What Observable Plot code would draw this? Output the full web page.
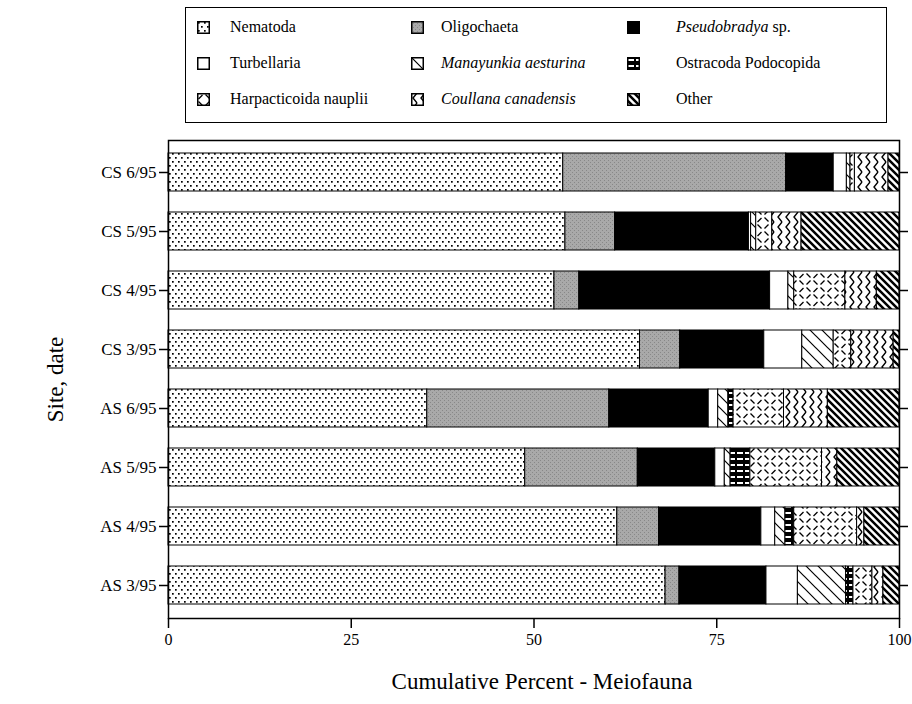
<!DOCTYPE html>
<html>
<head>
<meta charset="utf-8">
<script src="https://cdn.jsdelivr.net/npm/d3@7"></script>
<script src="https://cdn.jsdelivr.net/npm/@observablehq/plot@0.6"></script>
<style>
  body { margin: 0; background: #fff; font-family: "Liberation Serif", "Times New Roman", serif; }
  #legend { position: relative; width: 912px; height: 132px; }
  #legend .box { position: absolute; left: 185px; top: 7px; width: 702px; height: 116px; border: 1.5px solid #000; box-sizing: border-box; }
  #legend .sw { position: absolute; width: 13px; height: 13px; }
  #legend .lab { position: absolute; font-size: 16px; line-height: 16px; white-space: nowrap; color: #000; }
  #defs { position: absolute; width: 0; height: 0; overflow: hidden; }
</style>
</head>
<body>
<svg id="defs" width="0" height="0">
  <defs>
    <pattern id="p-nem" width="6" height="8" patternUnits="userSpaceOnUse">
      <rect width="6" height="8" fill="#fff"/>
      <rect x="1" y="1" width="1.7" height="1.7" fill="#000"/>
      <rect x="4" y="5" width="1.7" height="1.7" fill="#000"/>
    </pattern>
    <pattern id="p-oli" width="4" height="4" patternUnits="userSpaceOnUse">
      <rect width="4" height="4" fill="#a9a9a9"/>
      <rect x="0" y="0" width="1" height="1" fill="#888"/>
      <rect x="2" y="2" width="1" height="1" fill="#888"/>
    </pattern>
    <pattern id="p-man" width="12" height="12" patternUnits="userSpaceOnUse">
      <rect width="12" height="12" fill="#fff"/>
      <path d="M-3,-3 L15,15 M-3,9 L3,15 M9,-3 L15,3" stroke="#000" stroke-width="1.2"/>
    </pattern>
    <pattern id="p-ost" width="8" height="6" patternUnits="userSpaceOnUse">
      <rect width="8" height="6" fill="#000"/>
      <rect x="1" y="2" width="6" height="2" fill="#fff"/>
    </pattern>
    <pattern id="p-har" width="14" height="14" patternUnits="userSpaceOnUse">
      <rect width="14" height="14" fill="#fff"/>
      <path d="M1.5,6 L5.5,2 M8.5,1.5 L12.5,5.5 M1.5,8.5 L5.5,12.5 M8.5,12.5 L12.5,8.5" stroke="#000" stroke-width="1.3"/>
    </pattern>
    <pattern id="p-cou" width="8" height="10" patternUnits="userSpaceOnUse">
      <rect width="8" height="10" fill="#fff"/>
      <path d="M6,0 L2,5 L6,10" stroke="#000" stroke-width="1.4" fill="none"/>
    </pattern>
    <pattern id="p-oth" width="7" height="7" patternUnits="userSpaceOnUse">
      <rect width="7" height="7" fill="#fff"/>
      <path d="M-2,-2 L9,9 M-2,5 L2,9 M5,-2 L9,2" stroke="#000" stroke-width="2.5"/>
    </pattern>
  </defs>
</svg>
<div id="legend"><div class="box"></div></div>
<div id="chart"></div>
<script>
// ---- data ----
const sites = ["CS 6/95", "CS 5/95", "CS 4/95", "CS 3/95", "AS 6/95", "AS 5/95", "AS 4/95", "AS 3/95"];
const categories = ["Nematoda", "Oligochaeta", "Pseudobradya sp.", "Turbellaria", "Manayunkia aesturina",
  "Ostracoda Podocopida", "Harpacticoida nauplii", "Coullana canadensis", "Other"];
const italicParts = ["", "", "Pseudobradya", "", "Manayunkia aesturina", "", "", "Coullana canadensis", ""];
const nematoda      = [54.0, 54.3, 52.8, 64.5, 35.4, 48.8, 61.4, 68.0];
const oligochaeta   = [30.5,  6.8,  3.4,  5.5, 24.9, 15.4,  5.7,  1.9];
const pseudobradya  = [ 6.5, 18.3, 26.1, 11.5, 13.6, 10.6, 14.0, 11.9];
const turbellaria   = [ 1.8,  0.3,  2.5,  5.2,  1.3,  1.3,  1.9,  4.3];
const manayunkia    = [ 0.5,  0.7,  0.8,  4.3,  1.4,  0.8,  1.4,  6.6];
const ostracoda     = [ 0.0,  0.0,  0.0,  0.0,  0.7,  2.7,  1.2,  1.0];
const harpacticoida = [ 0.6,  2.2,  7.0,  2.4,  6.9,  9.8,  8.6,  2.6];
const coullana      = [ 4.6,  4.0,  4.3,  5.8,  6.0,  2.1,  1.0,  1.5];
const other         = [ 1.5, 13.4,  3.1,  0.8,  9.8,  8.5,  4.8,  2.2];
const xTicks = [0, 25, 50, 75, 100];
const xTitle = "Cumulative Percent - Meiofauna";
const yTitle = "Site, date";

const series = [nematoda, oligochaeta, pseudobradya, turbellaria, manayunkia, ostracoda, harpacticoida, coullana, other];
const fills = ["url(#p-nem)", "url(#p-oli)", "#000", "#fff", "url(#p-man)", "url(#p-ost)", "url(#p-har)", "url(#p-cou)", "url(#p-oth)"];

const table = [];
sites.forEach((s, i) => categories.forEach((c, k) => {
  if (series[k][i] > 0) table.push({site: s, category: c, value: series[k][i]});
}));

// ---- legend ----
const legend = document.getElementById("legend");
const swX = [197, 411, 627], labX = [230, 441, 676], rowY = [27, 63, 99];
categories.forEach((c, k) => {
  const col = k % 3, row = Math.floor(k / 3);
  const sw = document.createElementNS("http://www.w3.org/2000/svg", "svg");
  sw.setAttribute("class", "sw");
  sw.setAttribute("width", 13); sw.setAttribute("height", 13);
  sw.style.left = swX[col] + "px"; sw.style.top = (rowY[row] - 6.5) + "px";
  sw.innerHTML = `<rect x="0.75" y="0.75" width="11.5" height="11.5" fill="${fills[k]}" stroke="#000" stroke-width="1.5"/>`;
  legend.appendChild(sw);
  const lab = document.createElement("div");
  lab.className = "lab";
  lab.style.left = labX[col] + "px"; lab.style.top = (rowY[row] - 8.5) + "px";
  const it = italicParts[k];
  if (it) {
    const i = document.createElement("i"); i.textContent = it; lab.appendChild(i);
    lab.appendChild(document.createTextNode(c.slice(it.length)));
  } else lab.textContent = c;
  legend.appendChild(lab);
});

// ---- chart ----
const chart = Plot.plot({
  width: 912,
  height: 572,
  marginTop: 8,
  marginRight: 13,
  marginBottom: 86,
  marginLeft: 168,
  style: {fontFamily: '"Liberation Serif", "Times New Roman", serif', fontSize: "16px", background: "#fff", color: "#000"},
  x: {domain: [0, 100]},
  y: {domain: sites, paddingInner: 0.35, paddingOuter: 0.175},
  color: {domain: categories, range: fills},
  marks: [
    Plot.barX(table, Plot.stackX({x: "value", y: "site", fill: "category", stroke: "#000", strokeWidth: 1, order: null})),
    Plot.frame({stroke: "#000", strokeWidth: 1.5}),
    Plot.axisX({ticks: xTicks, tickSize: 10, tickPadding: 5, label: null, strokeWidth: 1.5, fontSize: 16}),
    Plot.axisY({anchor: "left", tickSize: 9, tickPadding: 3, label: null, strokeWidth: 1.5, fontSize: 17}),
    Plot.axisY({anchor: "right", tickSize: 8, tickFormat: () => "", label: null, strokeWidth: 1.5}),
    Plot.text([xTitle], {frameAnchor: "bottom", dy: 70, dx: 8, fontSize: 23}),
    Plot.text([yTitle], {frameAnchor: "left", dx: -113, rotate: -90, textAnchor: "middle", fontSize: 23})
  ]
});
document.getElementById("chart").appendChild(chart);
</script>
</body>
</html>
